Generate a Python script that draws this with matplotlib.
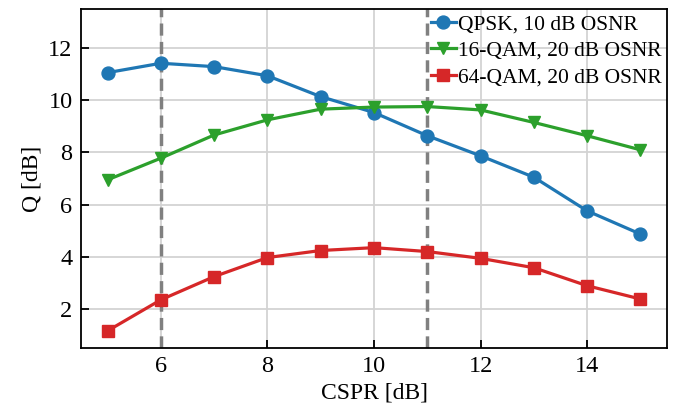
import matplotlib
matplotlib.use("Agg")
import matplotlib.pyplot as plt

cspr = [5, 6, 7, 8, 9, 10, 11, 12, 13, 14, 15]
qpsk = [11.06, 11.42, 11.29, 10.94, 10.14, 9.53, 8.64, 7.87, 7.05, 5.76, 4.87]
qam16 = [6.95, 7.78, 8.67, 9.25, 9.66, 9.74, 9.76, 9.63, 9.15, 8.64, 8.10]
qam64 = [1.16, 2.35, 3.24, 3.97, 4.24, 4.35, 4.20, 3.94, 3.58, 2.89, 2.38]
vlines = [6, 11]
labels = ["QPSK, 10 dB OSNR", "16-QAM, 20 dB OSNR", "64-QAM, 20 dB OSNR"]
xticks = [6, 8, 10, 12, 14]
yticks = [2, 4, 6, 8, 10, 12]

plt.rcParams['font.family'] = ['Liberation Serif', 'DejaVu Serif']
plt.rcParams['mathtext.fontset'] = 'stix'

fig = plt.figure(figsize=(6.8, 4.09), dpi=100)
ax = fig.add_axes([0.119, 0.149, 0.862, 0.829])
ax.set_axisbelow(True)

ax.grid(True, color='#d3d3d3', lw=1.3)
for v in vlines:
    ax.axvline(v, color='gray', ls=(0, (3.5, 1.8)), lw=2.5, zorder=2)

ax.plot(cspr, qpsk, '-o', color='#1f77b4', lw=2.3, ms=9.3, label=labels[0], zorder=3)
ax.plot(cspr, qam16, '-v', color='#2ca02c', lw=2.3, ms=9.3, label=labels[1], zorder=3)
ax.plot(cspr, qam64, '-s', color='#d62728', lw=2.3, ms=8.7, label=labels[2], zorder=3)

ax.set_xlim(4.5, 15.5)
ax.set_ylim(0.5, 13.5)
ax.set_xticks(xticks)
ax.set_yticks(yticks)
ax.tick_params(direction='in', length=6, width=1.3, labelsize=17.5, pad=6)
for s in ax.spines.values():
    s.set_linewidth(1.3)
    s.set_zorder(4)
ax.set_xlabel("CSPR [dB]", fontsize=17)
ax.set_ylabel("Q [dB]", fontsize=17)

ax.legend(loc='upper right', frameon=False, fontsize=15.5, handlelength=1.15,
          handletextpad=0.1, borderaxespad=0.05, labelspacing=0.3, borderpad=0.2)

fig.savefig("out.png", dpi=100)
